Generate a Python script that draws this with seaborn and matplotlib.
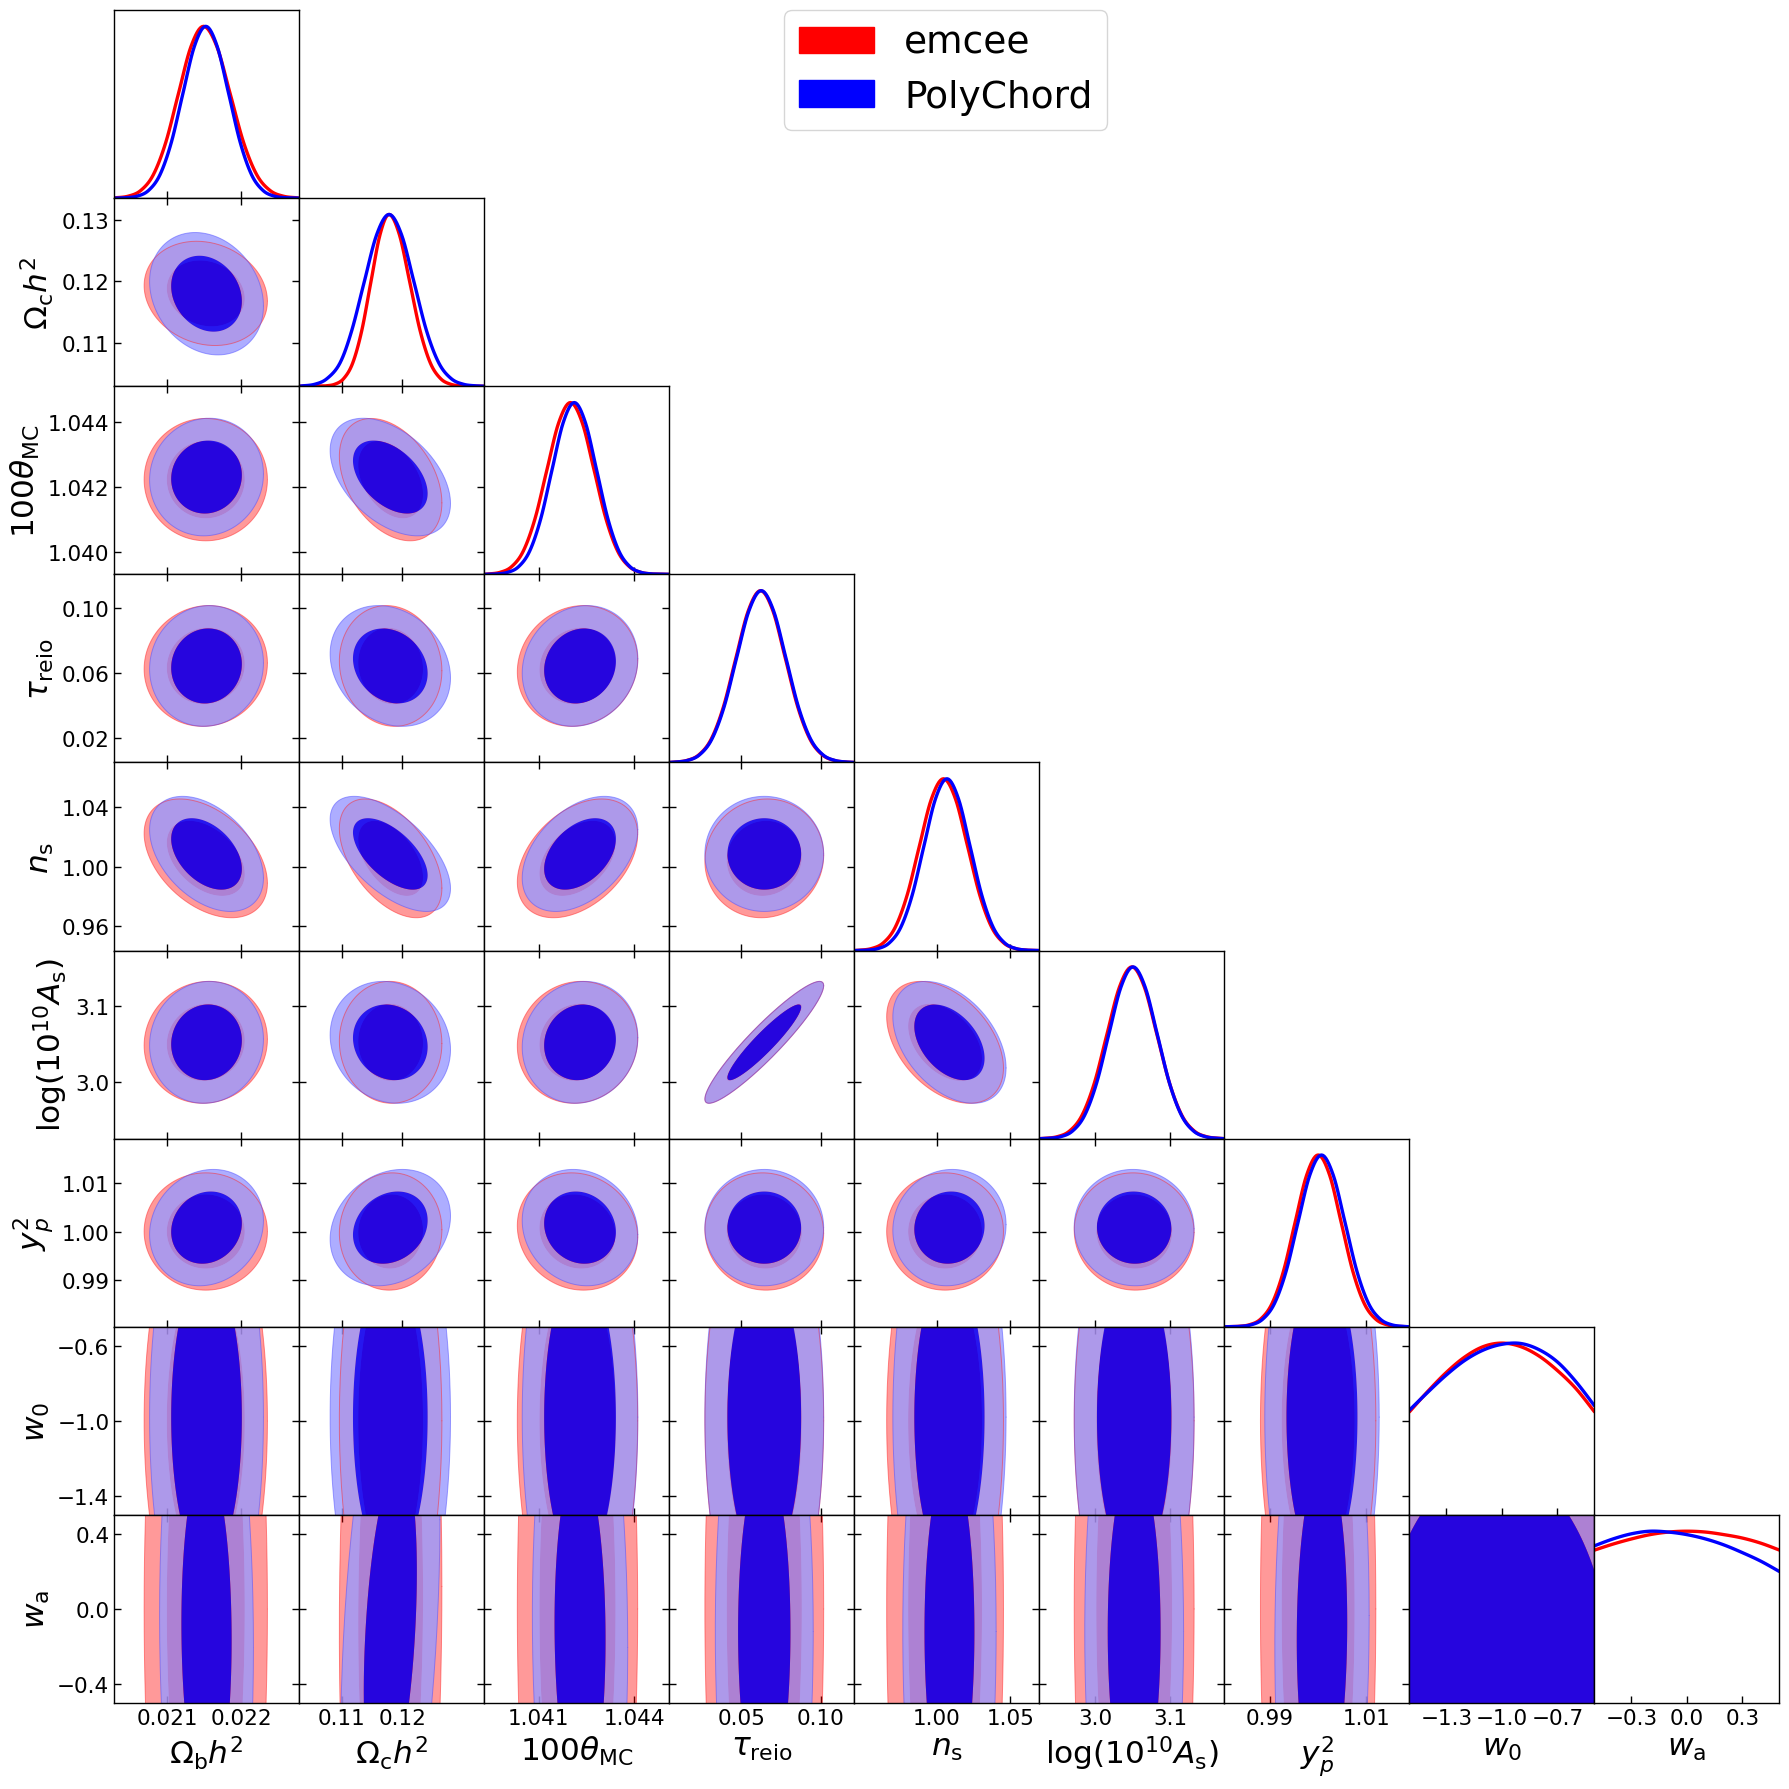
import numpy as np
import matplotlib
matplotlib.use("Agg")
import matplotlib.pyplot as plt
from matplotlib.patches import Patch
import seaborn as sns

# axis ranges, ticks and labels of the nine parameters
limits = [(0.020284, 0.022784), (0.103, 0.1335), (1.0393, 1.0451), (0.005, 0.121), (0.9435, 1.07),
          (2.925, 3.173), (0.9805, 1.019), (-1.5, -0.5), (-0.5, 0.5)]
names = [r'$\Omega_{\rm b}h^2$', r'$\Omega_{\rm c}h^2$', r'$100\theta_{\rm MC}$', r'$\tau_{\rm reio}$', r'$n_{\rm s}$',
         r'${\rm log}(10^{10}A_{\rm s})$', r'$y_p^2$', r'$w_0$', r'$w_{\rm a}$']
xticks = [[0.021, 0.022], [0.11, 0.12], [1.041, 1.044], [0.05, 0.10], [1.00, 1.05], [3.0, 3.1], [0.99, 1.01],
          [-1.3, -1.0, -0.7], [-0.3, 0.0, 0.3]]
xticklabels = [['0.021', '0.022'], ['0.11', '0.12'], ['1.041', '1.044'], ['0.05', '0.10'], ['1.00', '1.05'],
               ['3.0', '3.1'], ['0.99', '1.01'], ['\u22121.3', '\u22121.0', '\u22120.7'], ['\u22120.3', '0.0', '0.3']]
yticks = [[], [0.11, 0.12, 0.13], [1.040, 1.042, 1.044], [0.02, 0.06, 0.10], [0.96, 1.00, 1.04], [3.0, 3.1],
          [0.99, 1.00, 1.01], [-1.4, -1.0, -0.6], [-0.4, 0.0, 0.4]]
yticklabels = [[], ['0.11', '0.12', '0.13'], ['1.040', '1.042', '1.044'], ['0.02', '0.06', '0.10'],
               ['0.96', '1.00', '1.04'], ['3.0', '3.1'], ['0.99', '1.00', '1.01'],
               ['\u22121.4', '\u22121.0', '\u22120.6'], ['\u22120.4', '0.0', '0.4']]

# 1D marginals: x positions where each curve crosses bell_heights
bell_heights = [0.002, 0.011, 0.044, 0.135, 0.325, 0.607, 0.882, 1.0, 0.882, 0.607, 0.325, 0.135, 0.044, 0.011, 0.002]
bell_red = [
    [0.02030, 0.02047, 0.02064, 0.02081, 0.02098, 0.02115, 0.02132, 0.02149, 0.02167, 0.02185, 0.02203, 0.02221, 0.02239, 0.02257, 0.02275],
    [0.1073, 0.1088, 0.1103, 0.1118, 0.1133, 0.1148, 0.1163, 0.1178, 0.1195, 0.1212, 0.1229, 0.1246, 0.1263, 0.1280, 0.1297],
    [1.03941, 1.03978, 1.04015, 1.04052, 1.04089, 1.04126, 1.04163, 1.0420, 1.04237, 1.04274, 1.04311, 1.04348, 1.04385, 1.04422, 1.04459],
    [0.00795, 0.0157, 0.02345, 0.0312, 0.03895, 0.0467, 0.05445, 0.0622, 0.06995, 0.0777, 0.08545, 0.0932, 0.10095, 0.1087, 0.11645],
    [0.94665, 0.9549, 0.96315, 0.9714, 0.97965, 0.9879, 0.99615, 1.0044, 1.01265, 1.0209, 1.02915, 1.0374, 1.04565, 1.0539, 1.06215],
    [2.93175, 2.9485, 2.96525, 2.982, 2.99875, 3.0155, 3.03225, 3.049, 3.06575, 3.0825, 3.09925, 3.116, 3.13275, 3.1495, 3.16625],
    [0.9832, 0.9856, 0.988, 0.9904, 0.9928, 0.9952, 0.9976, 1.0, 1.0024, 1.0048, 1.0072, 1.0096, 1.012, 1.0144, 1.0168],
]
bell_blue = [
    [0.020435, 0.02059, 0.020745, 0.0209, 0.021055, 0.02121, 0.021365, 0.02152, 0.021675, 0.02183, 0.021985, 0.02214, 0.022295, 0.02245, 0.022605],
    [0.10345, 0.1055, 0.10755, 0.1097, 0.11165, 0.1137, 0.11575, 0.1178, 0.11985, 0.1219, 0.12395, 0.1260, 0.12805, 0.1301, 0.13215],
    [1.03967, 1.04002, 1.04037, 1.04072, 1.04107, 1.04142, 1.04177, 1.04212, 1.04247, 1.04282, 1.04317, 1.04352, 1.04387, 1.04422, 1.04457],
    [0.00835, 0.0161, 0.02385, 0.0316, 0.03935, 0.0471, 0.05485, 0.0626, 0.07035, 0.0781, 0.08585, 0.0936, 0.10135, 0.1091, 0.11685],
    [0.9515, 0.9594, 0.9673, 0.9752, 0.9831, 0.991, 0.9989, 1.0068, 1.0147, 1.0226, 1.0305, 1.0384, 1.0463, 1.0542, 1.0621],
    [2.93675, 2.953, 2.96925, 2.9855, 3.00175, 3.018, 3.03425, 3.0505, 3.06675, 3.083, 3.09925, 3.1155, 3.13175, 3.148, 3.16425],
    [0.98355, 0.986, 0.98845, 0.9909, 0.99335, 0.9958, 0.99825, 1.0007, 1.00315, 1.0056, 1.00805, 1.0105, 1.01295, 1.0154, 1.01785],
]
# w0 and wa do not fall to zero inside the prior
w0_grid = [-1.5, -1.4, -1.3, -1.2, -1.1, -1.0, -0.9, -0.8, -0.7, -0.6, -0.5]
w0_red = [0.60, 0.72, 0.83, 0.92, 0.98, 1.0, 0.98, 0.925, 0.84, 0.735, 0.60]
w0_blue = [0.61, 0.715, 0.815, 0.90, 0.96, 0.993, 0.998, 0.962, 0.89, 0.775, 0.635]
wa_grid = [-0.5, -0.4, -0.3, -0.2, -0.1, 0.0, 0.1, 0.2, 0.3, 0.4, 0.5]
wa_red = [0.89, 0.925, 0.955, 0.98, 0.995, 1.0, 0.995, 0.98, 0.96, 0.93, 0.89]
wa_blue = [0.915, 0.955, 0.985, 1.0, 0.995, 0.98, 0.955, 0.92, 0.875, 0.825, 0.765]

# 2D contours: centres, widths and correlations
mean_red = [0.02152, 0.11805, 1.04222, 0.0645, 1.0055, 3.052, 1.0000, -1.0, 0.0]
mean_blue = [0.02153, 0.1180, 1.0423, 0.0645, 1.0085, 3.052, 1.0008, -0.98, -0.12]
sig_red = [0.00034, 0.00345, 0.00077, 0.0152, 0.0163, 0.0328, 0.0049, 0.5, 0.98]
sig_blue = [0.000314, 0.00405, 0.00074, 0.0152, 0.0158, 0.0328, 0.00486, 0.52, 0.84]
rho_red = [[],
           [-0.15],
           [0.0, -0.38],
           [0.05, -0.08, 0.1],
           [-0.42, -0.5, 0.4, 0.05],
           [0.05, -0.02, 0.06, 0.93, -0.42],
           [0.0, 0.03, -0.1, -0.03, 0.0, -0.02],
           [0.0, 0.0, 0.0, 0.0, 0.0, 0.0, 0.0],
           [0.0, 0.05, 0.0, 0.0, 0.0, 0.0, 0.0, 0.0]]
rho_blue = [[],
            [-0.2],
            [0.05, -0.45],
            [0.05, -0.2, 0.12],
            [-0.42, -0.6, 0.42, 0.0],
            [0.05, -0.12, 0.08, 0.93, -0.42],
            [0.12, 0.2, -0.12, 0.0, 0.05, -0.02],
            [0.0, 0.0, 0.0, 0.0, 0.0, 0.0, 0.0],
            [-0.05, 0.35, -0.05, 0.0, 0.0, 0.0, 0.05, 0.0]]
# contour radius in sigmas, (inner, outer); the wa row is cut by the prior
levels_red = (1.55, 2.45)
levels_blue = (1.52, 2.45)
levels_blue_wa = (1.08, 2.02)
# blue inner region of the w0-wa panel: centre and half widths
w0wa_inner_blue = [-1.04, -0.5, 0.647, 1.273]

sns.set_theme(style='ticks', rc={
    'axes.edgecolor': 'black', 'axes.linewidth': 1.0, 'xtick.color': 'black', 'ytick.color': 'black',
    'text.color': 'black', 'axes.labelcolor': 'black', 'xtick.direction': 'in', 'ytick.direction': 'in',
    'xtick.major.size': 5, 'ytick.major.size': 5, 'xtick.major.width': 1.0, 'ytick.major.width': 1.0,
    'xtick.labelsize': 15.5, 'ytick.labelsize': 15.5, 'axes.labelsize': 22.5, 'mathtext.fontset': 'dejavusans',
})

RED_IN = (1, 0.15, 0.15)
BLUE_OUT, BLUE_IN = (0.6, 0.6, 1), (0, 0, 1)
BLUE_EDGE = (0.3, 0.3, 1)
THETA = np.linspace(0, 2 * np.pi, 241)


def smooth(xs, ys, n=8):
    # Catmull-Rom through the read points
    pts = np.column_stack([xs, ys])
    p = np.vstack([pts[0], pts, pts[-1]])
    t = np.linspace(0, 1, n, endpoint=False)[:, None]
    out = []
    for i in range(1, len(p) - 2):
        p0, p1, p2, p3 = p[i - 1], p[i], p[i + 1], p[i + 2]
        out.append(0.5 * (2 * p1 + (p2 - p0) * t + (2 * p0 - 5 * p1 + 4 * p2 - p3) * t ** 2
                          + (3 * p1 - p0 - 3 * p2 + p3) * t ** 3))
    out.append(pts[-1:])
    return np.vstack(out)


def ellipse(mx, my, sx, sy, rho, level):
    x = mx + level * sx * np.cos(THETA)
    y = my + level * sy * (rho * np.cos(THETA) + np.sqrt(1 - rho ** 2) * np.sin(THETA))
    return x, y


def draw_contours(ax, inner, outer, col_in, col_out, col_edge, alpha_in, alpha_out):
    ax.fill(np.r_[outer[0], inner[0][::-1]], np.r_[outer[1], inner[1][::-1]], color=col_out, alpha=alpha_out, lw=0)
    ax.fill(inner[0], inner[1], color=col_in, alpha=alpha_in, lw=0)
    sns.lineplot(x=outer[0], y=outer[1], sort=False, estimator=None, ax=ax, color=col_edge, lw=0.7, alpha=0.5)


n = len(names)
fig, axes = plt.subplots(n, n, figsize=(17.89, 17.90), dpi=100)
fig.subplots_adjust(left=114.3 / 1789, right=1779.5 / 1789, top=1 - 11 / 1790, bottom=1 - 1704 / 1790,
                    wspace=0, hspace=0)

for i in range(n):
    for j in range(n):
        ax = axes[i, j]
        if j > i:
            ax.remove()
            continue
        if i == j:
            curves = []
            if i < 7:
                for xs, color in ((bell_red[i], 'red'), (bell_blue[i], 'blue')):
                    s = smooth(xs, bell_heights)
                    curves.append((np.r_[limits[i][0], s[:, 0], limits[i][1]], np.r_[0, s[:, 1], 0], color))
            elif i == 7:
                for ys, color in ((w0_red, 'red'), (w0_blue, 'blue')):
                    s = smooth(w0_grid, ys)
                    curves.append((s[:, 0], s[:, 1], color))
            else:
                for ys, color in ((wa_red, 'red'), (wa_blue, 'blue')):
                    s = smooth(wa_grid, ys)
                    curves.append((s[:, 0], s[:, 1], color))
            for cx, cy, color in curves:
                sns.lineplot(x=cx, y=cy, sort=False, estimator=None, ax=ax, color=color, lw=2.4)
            ax.set_ylim(0, 1.095)
            ax.set_yticks([])
            ax.tick_params(axis='x', top=False, bottom=True)
        else:
            r_in = ellipse(mean_red[j], mean_red[i], sig_red[j], sig_red[i], rho_red[i][j], levels_red[0])
            r_out = ellipse(mean_red[j], mean_red[i], sig_red[j], sig_red[i], rho_red[i][j], levels_red[1])
            draw_contours(ax, r_in, r_out, RED_IN, 'red', RED_IN, 1.0, 0.4)
            lv = levels_blue_wa if i == 8 else levels_blue
            b_in = ellipse(mean_blue[j], mean_blue[i], sig_blue[j], sig_blue[i], rho_blue[i][j], lv[0])
            if i == 8 and j == 7:
                b_in = ellipse(w0wa_inner_blue[0], w0wa_inner_blue[1], w0wa_inner_blue[2], w0wa_inner_blue[3], 0.0, 1.0)
            b_out = ellipse(mean_blue[j], mean_blue[i], sig_blue[j], sig_blue[i], rho_blue[i][j], lv[1])
            draw_contours(ax, b_in, b_out, BLUE_IN, BLUE_OUT, BLUE_EDGE, 0.85, 0.8)
            ax.set_ylim(limits[i])
            ax.set_yticks(yticks[i])
            ax.tick_params(axis='both', top=True, right=True)
            ax.set_yticklabels(yticklabels[i] if j == 0 else [])
        ax.set_xlim(limits[j])
        ax.set_xticks(xticks[j])
        ax.set_xticklabels(xticklabels[j] if i == n - 1 else [])
        ax.set_xlabel(names[j] if i == n - 1 else '')
        ax.set_ylabel(names[i] if (j == 0 and i > 0) else '')

handles = [Patch(color='red', label='emcee'), Patch(color='blue', label='PolyChord')]
fig.legend(handles=handles, loc='upper left', bbox_to_anchor=(784 / 1789, 1 - 11 / 1790), fontsize=27,
           handlelength=2.0, handletextpad=0.8, labelspacing=0.47, borderaxespad=0, frameon=True,
           edgecolor='0.8', framealpha=0.8, fancybox=True)

fig.savefig('out.png', dpi=100)
